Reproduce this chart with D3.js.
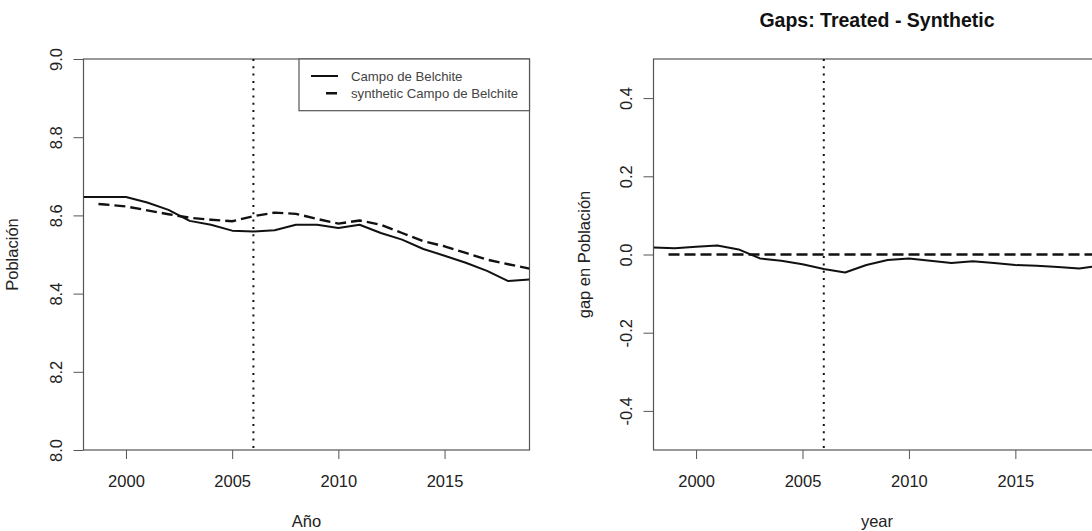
<!DOCTYPE html>
<html>
<head>
<meta charset="utf-8">
<script src="https://cdn.jsdelivr.net/npm/d3@7"></script>
<style>
body { margin: 0; background: #fff; }
text { font-family: "Liberation Sans", Arial, sans-serif; }
</style>
</head>
<body>
<svg width="1092" height="531"></svg>
<script>
// values
var years = [1998, 1999, 2000, 2001, 2002, 2003, 2004, 2005, 2006, 2007, 2008,
             2009, 2010, 2011, 2012, 2013, 2014, 2015, 2016, 2017, 2018, 2019];
var treated = [8.647, 8.647, 8.647, 8.633, 8.614, 8.586, 8.576, 8.561, 8.559, 8.562, 8.576,
               8.576, 8.568, 8.576, 8.555, 8.538, 8.514, 8.497, 8.479, 8.458, 8.432, 8.436];
var synthetic = [8.632, 8.628, 8.623, 8.613, 8.603, 8.594, 8.589, 8.585, 8.598, 8.607, 8.604,
                 8.591, 8.579, 8.587, 8.576, 8.555, 8.534, 8.521, 8.504, 8.487, 8.475, 8.464];
var gaps = [0.018, 0.016, 0.020, 0.023, 0.013, -0.010, -0.016, -0.025, -0.037, -0.046, -0.027,
            -0.014, -0.010, -0.016, -0.022, -0.017, -0.022, -0.027, -0.029, -0.032, -0.036, -0.028];

var yearTicks = [2000, 2005, 2010, 2015];
var pathTicks = [8.0, 8.2, 8.4, 8.6, 8.8, 9.0];
var gapTicks = [-0.4, -0.2, 0.0, 0.2, 0.4];
var treatmentYear = 2006;
var legendLabels = ["Campo de Belchite", "synthetic Campo de Belchite"];

var svg = d3.select("svg");
var axisColor = "#555";

// dashes start with a longer gap, like the R device does
function dashes(len) {
    var parts = ["0", "15"];
    for (var i = 0; i < len / 16 + 2; i++) parts.push("11", "5");
    return parts.join(" ");
}

function drawPanel(id, box, yDomain, yTicks, xTitle, yTitle, yTitleX) {
    var x = d3.scaleLinear().domain([1998, 2019]).range([box.x0, box.x1]);
    var y = d3.scaleLinear().domain(yDomain).range([box.y1, box.y0]);

    svg.append("clipPath").attr("id", id)
      .append("rect")
        .attr("x", box.x0).attr("y", box.y0)
        .attr("width", box.x1 - box.x0).attr("height", box.y1 - box.y0);

    var gx = svg.append("g")
        .attr("transform", "translate(0," + box.y1 + ")")
        .call(d3.axisBottom(x).tickValues(yearTicks).tickSize(9).tickSizeOuter(0)
            .tickPadding(16).tickFormat(d3.format("d")));
    gx.select(".domain").remove();
    gx.selectAll("line").attr("stroke", axisColor);
    gx.selectAll("text").attr("fill", "#222").style("font-size", "16.5px");

    var gy = svg.append("g")
        .attr("transform", "translate(" + box.x0 + ",0)")
        .call(d3.axisLeft(y).tickValues(yTicks).tickSize(10).tickSizeOuter(0)
            .tickFormat(function(d) { return d.toFixed(1); }));
    gy.select(".domain").remove();
    gy.selectAll("line").attr("stroke", axisColor);
    gy.selectAll("text")
        .attr("x", 0).attr("dy", 0)
        .attr("text-anchor", "middle")
        .attr("transform", "translate(-22,0) rotate(-90)")
        .attr("fill", "#222")
        .style("font-size", "16.5px");

    svg.append("rect")
        .attr("x", box.x0).attr("y", box.y0)
        .attr("width", box.x1 - box.x0).attr("height", box.y1 - box.y0)
        .attr("fill", "none").attr("stroke", axisColor).attr("stroke-width", 1.2);

    svg.append("text")
        .attr("x", (box.x0 + box.x1) / 2).attr("y", 527)
        .attr("text-anchor", "middle")
        .attr("fill", "#222").style("font-size", "16.5px")
        .text(xTitle);

    svg.append("text")
        .attr("transform", "translate(" + yTitleX + "," + (box.y0 + box.y1) / 2 + ") rotate(-90)")
        .attr("text-anchor", "middle")
        .attr("fill", "#222").style("font-size", "16.5px")
        .text(yTitle);

    // treatment year
    svg.append("line")
        .attr("x1", x(treatmentYear)).attr("x2", x(treatmentYear))
        .attr("y1", box.y0).attr("y2", box.y1)
        .attr("stroke", "#111").attr("stroke-width", 2)
        .attr("stroke-dasharray", "2 5.3");

    return {x: x, y: y, clip: "url(#" + id + ")"};
}

function drawLine(p, values, dashed) {
    var line = d3.line()
        .x(function(d, i) { return p.x(years[i]); })
        .y(function(d) { return p.y(d); });
    var path = svg.append("path")
        .datum(values)
        .attr("clip-path", p.clip)
        .attr("d", line)
        .attr("fill", "none")
        .attr("stroke", "#111")
        .attr("stroke-width", dashed ? 2.4 : 2)
        .attr("stroke-linejoin", "round");
    if (dashed) path.attr("stroke-dasharray", dashes(path.node().getTotalLength()));
}

// left: paths
var leftPanel = drawPanel("clipL", {x0: 83.5, x1: 529.5, y0: 59, y1: 450},
    [8, 9], pathTicks, "Año", "Población", 18);
drawLine(leftPanel, treated, false);
drawLine(leftPanel, synthetic, true);

// legend
var legend = svg.append("g");
legend.append("rect")
    .attr("x", 299).attr("y", 59).attr("width", 230.5).attr("height", 51.7)
    .attr("fill", "#fff").attr("stroke", axisColor).attr("stroke-width", 1.2);
legendLabels.forEach(function(label, i) {
    var ly = 76 + i * 17.3;
    legend.append("line")
        .attr("x1", 311).attr("x2", 338).attr("y1", ly).attr("y2", ly)
        .attr("stroke", "#111").attr("stroke-width", i ? 2.4 : 2)
        .attr("stroke-dasharray", i ? dashes(27) : null);
    legend.append("text")
        .attr("x", 351).attr("y", ly + 4.5)
        .attr("fill", "#444").style("font-size", "13.2px")
        .text(label);
});

// right: gaps
var rightPanel = drawPanel("clipR", {x0: 653.5, x1: 1100.5, y0: 59, y1: 450},
    [-0.5, 0.5], gapTicks, "year", "gap en Población", 590);
svg.append("line")
    .attr("clip-path", rightPanel.clip)
    .attr("x1", rightPanel.x(1998)).attr("x2", rightPanel.x(2019))
    .attr("y1", rightPanel.y(0)).attr("y2", rightPanel.y(0))
    .attr("stroke", "#111").attr("stroke-width", 2.4)
    .attr("stroke-dasharray", dashes(450));
drawLine(rightPanel, gaps, false);

svg.append("text")
    .attr("x", 877).attr("y", 27)
    .attr("text-anchor", "middle")
    .style("font-size", "19.5px").style("font-weight", "bold")
    .attr("fill", "#111")
    .text("Gaps: Treated - Synthetic");
</script>
</body>
</html>
